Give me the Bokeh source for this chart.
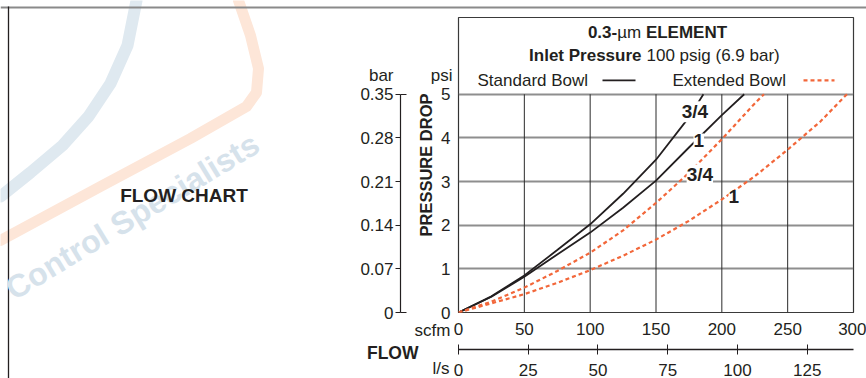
from bokeh.plotting import figure
from bokeh.models import Range1d, LinearAxis, FixedTicker, Label
from bokeh.embed import file_html
from bokeh.resources import INLINE

# ---------------- data ----------------
flow_ticks_scfm = [0, 50, 100, 150, 200, 250, 300]
flow_ticks_ls = [0, 25, 50, 75, 100, 125]
psi_ticks = [0, 1, 2, 3, 4, 5]
bar_ticks = [0, 0.07, 0.14, 0.21, 0.28, 0.35]

std_34_scfm = [0, 25, 50, 75, 100, 125, 150, 175, 186]
std_34_psi = [0, 0.37, 0.85, 1.43, 2.02, 2.72, 3.50, 4.47, 5.0]
std_1_scfm = [0, 25, 50, 75, 100, 125, 150, 175, 200, 217]
std_1_psi = [0, 0.36, 0.82, 1.33, 1.83, 2.40, 3.02, 3.78, 4.52, 5.0]
ext_34_scfm = [0, 25, 50, 75, 100, 125, 150, 175, 200, 225, 232]
ext_34_psi = [0, 0.25, 0.57, 0.95, 1.37, 1.88, 2.51, 3.20, 3.97, 4.79, 5.0]
ext_1_scfm = [0, 25, 50, 75, 100, 125, 150, 175, 200, 225, 250, 275, 295]
ext_1_psi = [0, 0.21, 0.42, 0.68, 0.97, 1.30, 1.67, 2.10, 2.59, 3.12, 3.73, 4.38, 5.0]

SCFM_PER_LS = 2.1189
BAR_PER_PSI = 0.07

# ---------------- style ----------------
FONT = "Liberation Sans"
INK = "#231f20"
ORANGE = "#f2673a"
W, H = 866, 378
PX_PER_PSI = 43.8
Y_TOP = 5 + 77 / PX_PER_PSI    # header box above the 5 psi line
X_MAX = 300
FL, FR, FT, FB = 458, 13, 17, 65  # frame borders

# ---------------- chart ----------------
p = figure(width=W, height=H, output_backend="svg", toolbar_location=None,
           x_range=Range1d(0, X_MAX), y_range=Range1d(0, Y_TOP),
           min_border_left=FL, min_border_right=FR, min_border_top=FT,
           min_border_bottom=FB)
p.extra_x_ranges = {"ls": Range1d(0, X_MAX / SCFM_PER_LS)}
p.extra_y_ranges = {"bar": Range1d(0, Y_TOP * BAR_PER_PSI)}
p.outline_line_color = "#3a3a3a"
p.outline_line_width = 1.2

# grids
p.xgrid.visible = False
p.ygrid.ticker = FixedTicker(ticks=psi_ticks)
p.ygrid.grid_line_color = "#8e8e8e"
p.ygrid.grid_line_width = 1.8
p.segment(x0=flow_ticks_scfm, y0=[0] * len(flow_ticks_scfm),
          x1=flow_ticks_scfm, y1=[5] * len(flow_ticks_scfm),
          line_color="#2b2b2b", line_width=1)


def style_labels(ax, size="17px"):
    ax.major_label_text_font = FONT
    ax.major_label_text_font_size = size
    ax.major_label_text_color = INK


# scfm axis
xa = p.xaxis[0]
xa.ticker = FixedTicker(ticks=flow_ticks_scfm)
xa.axis_line_color = None
xa.major_tick_line_color = None
xa.minor_tick_line_color = None
xa.major_tick_out = 0
xa.major_tick_in = 0
xa.major_label_standoff = 10
style_labels(xa)
xa.axis_label = " "
xa.axis_label_text_font_size = "1px"
xa.axis_label_standoff = 8

# l/s axis
la = LinearAxis(x_range_name="ls", ticker=FixedTicker(ticks=flow_ticks_ls))
la.axis_line_color = INK
la.axis_line_width = 1.6
la.major_tick_in = 5
la.major_tick_out = 5
la.major_tick_line_color = INK
la.minor_tick_line_color = None
la.major_label_standoff = 9
style_labels(la)
p.add_layout(la, "below")

# psi axis
ya = p.yaxis[0]
ya.ticker = FixedTicker(ticks=psi_ticks)
ya.bounds = (0, 5)
ya.axis_line_color = None
ya.major_tick_line_color = None
ya.minor_tick_line_color = None
ya.major_tick_out = 0
ya.major_tick_in = 0
ya.major_label_standoff = 8
style_labels(ya)
ya.axis_label = "PRESSURE DROP"
ya.axis_label_text_font = FONT
ya.axis_label_text_font_size = "16.5px"
ya.axis_label_text_font_style = "bold"
ya.axis_label_text_color = INK
ya.axis_label_standoff = 3

# spacer between the label and the bar axis
sp = LinearAxis(y_range_name="bar", ticker=FixedTicker(ticks=[]))
sp.axis_line_color = None
sp.major_tick_line_color = None
sp.minor_tick_line_color = None
sp.major_tick_out = 0
sp.major_tick_in = 0
sp.axis_label = " "
sp.axis_label_text_font_size = "1px"
sp.axis_label_standoff = 10
p.add_layout(sp, "left")

# bar axis
ba = LinearAxis(y_range_name="bar",
                ticker=FixedTicker(ticks=bar_ticks, minor_ticks=[0, 0.35]))
ba.bounds = (0, 0.35)
ba.axis_line_color = INK
ba.axis_line_width = 1.2
ba.major_tick_out = 5
ba.major_tick_in = 0
ba.minor_tick_in = 6
ba.minor_tick_out = 0
ba.minor_tick_line_color = INK
ba.major_tick_line_color = INK
ba.major_label_standoff = 2
ba.major_label_overrides = {0: "0"}
style_labels(ba)
p.add_layout(ba, "left")

# curves
p.line(std_34_scfm, std_34_psi, line_color=INK, line_width=1.8)
p.line(std_1_scfm, std_1_psi, line_color=INK, line_width=1.8)
p.line(ext_34_scfm, ext_34_psi, line_color=ORANGE, line_width=2.2, line_dash="4 3")
p.line(ext_1_scfm, ext_1_psi, line_color=ORANGE, line_width=2.2, line_dash="4 3")


def sx(px):  # page pixel -> scfm
    return (px - FL) * X_MAX / 395.0


def sy(py):  # page pixel -> psi
    return (H - FB - py) / PX_PER_PSI


def lab(fig, x, y, text, size="17px", style="normal", align="right", color=INK, bg=None, **kw):
    if bg:
        kw["background_fill_color"] = bg
    fig.add_layout(Label(x=x, y=y, text=text, text_font=FONT, text_font_size=size,
                         text_font_style=style, text_align=align, text_baseline="middle",
                         text_color=color, **kw))


# header box texts
lab(p, sx(587.4), sy(32), "0.3-", "17px", "bold", "left")
lab(p, sx(616.7), sy(32), "µm", "17px", "normal", "left")
lab(p, sx(645.4), sy(32), "ELEMENT", "17px", "bold", "left")
lab(p, sx(641), sy(55), "Inlet Pressure", "17px", "bold", "right")
lab(p, sx(646), sy(55), "100 psig (6.9 bar)", "17px", "normal", "left")
lab(p, sx(477), sy(80), "Standard Bowl", "17px", "normal", "left")
lab(p, sx(672), sy(80), "Extended Bowl", "17px", "normal", "left")
p.line([sx(602), sx(635)], [sy(80), sy(80)], line_color=INK, line_width=1.8)
p.line([sx(803), sx(834)], [sy(80), sy(80)], line_color=ORANGE, line_width=2.2, line_dash="4 3")

# curve labels
lab(p, 179.5, 4.60, "3/4", "19px", "bold", "center", bg="white")
lab(p, 182.5, 3.95, "1", "19px", "bold", "center", bg="white")
lab(p, 183.3, 3.15, "3/4", "19px", "bold", "center", bg="white")
lab(p, 209.1, 2.66, "1", "19px", "bold", "center", bg="white")

# ---------------- transparent overlay for the page margins (page pixels) ----------------
ov = figure(width=W, height=H, output_backend="svg", toolbar_location=None,
            x_range=Range1d(0, W), y_range=Range1d(H, 0), min_border=0,
            x_axis_type=None, y_axis_type=None,
            styles={"position": "absolute", "left": "0px", "top": "0px"})
ov.outline_line_color = None
ov.xgrid.visible = False
ov.ygrid.visible = False
ov.background_fill_alpha = 0
ov.border_fill_alpha = 0

# faint watermark
ov.line([238, 250, 258, 256, 246, 190, 100, 0], [0, 35, 68, 92, 106, 138, 186, 240],
        line_color="#fde6d8", line_width=11, line_join="round", line_cap="round")
ov.line([136, 127, 110, 88, 62, 30, 0], [0, 45, 83, 116, 145, 172, 196],
        line_color="#dfe9f0", line_width=12, line_join="round", line_cap="round")
lab(ov, 8, 291, "Control Specialists", "32px", "bold", "left", color="#d6e2eb",
    angle=0.546)

# page frame rules
ov.line([0, W], [7, 7], line_color="#8a8a8a", line_width=2)
ov.line([8, 8], [6, H], line_color=INK, line_width=1.3)

# captions around the chart
lab(ov, 183.5, 195, "FLOW CHART", "19px", "bold", "center")
lab(ov, 393, 75, "bar")
lab(ov, 452, 75, "psi")
lab(ov, 450, 330, "scfm")
lab(ov, 418, 352, "FLOW", "17.5px", "bold")
lab(ov, 449, 368, "l/s")

open("out.html", "w").write(file_html([p, ov], INLINE))
